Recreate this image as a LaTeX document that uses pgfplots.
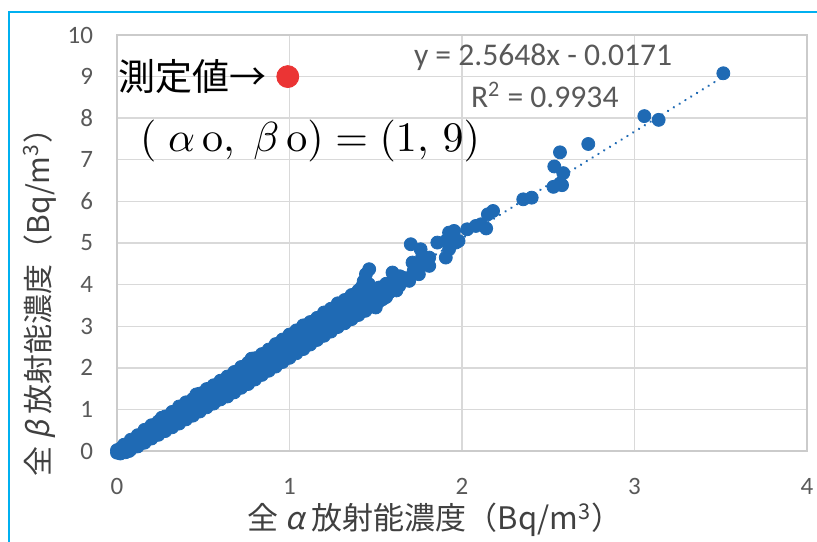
\documentclass[border=0pt]{standalone}
\usepackage[no-math]{fontspec}
\setmainfont{Carlito}
\newfontfamily\jp{Noto Sans CJK JP}
\newfontfamily\jpslant{Noto Sans CJK JP}[FakeSlant=0.2]
\usepackage{pgfplots}
\pgfplotsset{compat=1.18}
\usepackage{pgfplotstable}

\definecolor{ptblue}{RGB}{31,106,180}
\definecolor{ptred}{RGB}{235,52,52}
\definecolor{gridgray}{RGB}{217,217,217}
\definecolor{ticktext}{RGB}{89,89,89}
\definecolor{labeltext}{RGB}{64,64,64}
\definecolor{framecyan}{RGB}{0,176,240}

% gross alpha vs gross beta concentrations (Bq/m^3)
\pgfplotstableread{
x y
0.00 0.02
0.00 -0.04
0.01 0.01
0.02 0.06
0.02 -0.06
0.03 0.03
0.04 0.15
0.04 0.08
0.05 -0.03
0.06 0.12
0.07 0.00
0.08 0.27
0.08 0.17
0.08 0.04
0.10 0.22
0.12 0.38
0.12 0.28
0.12 0.11
0.14 0.30
0.16 0.51
0.16 0.38
0.16 0.20
0.20 0.62
0.20 0.49
0.20 0.30
0.24 0.71
0.24 0.59
0.24 0.39
0.26 0.80
0.28 0.83
0.28 0.69
0.28 0.48
0.32 0.94
0.32 0.80
0.32 0.57
0.36 1.07
0.36 0.91
0.36 0.66
0.40 1.17
0.40 1.01
0.40 0.76
0.44 1.25
0.44 1.10
0.44 0.85
0.46 1.36
0.48 1.38
0.48 1.22
0.48 0.95
0.52 1.49
0.52 1.31
0.52 1.05
0.56 1.58
0.56 1.42
0.56 1.14
0.60 1.69
0.60 1.51
0.60 1.24
0.64 1.79
0.64 1.63
0.64 1.46
0.64 1.31
0.68 1.90
0.68 1.72
0.68 1.56
0.68 1.41
0.72 2.02
0.72 1.84
0.72 1.67
0.72 1.52
0.76 2.12
0.76 1.93
0.76 1.77
0.76 1.61
0.78 2.22
0.80 2.23
0.80 2.04
0.80 1.88
0.80 1.72
0.84 2.33
0.84 2.15
0.84 1.98
0.84 1.83
0.88 2.44
0.88 2.25
0.88 2.07
0.88 1.93
0.92 2.57
0.92 2.35
0.92 2.18
0.92 2.03
0.96 2.68
0.96 2.45
0.96 2.28
0.96 2.14
1.00 2.80
1.00 2.56
1.00 2.40
1.00 2.24
1.04 2.90
1.04 2.66
1.04 2.50
1.04 2.35
1.08 3.02
1.08 2.76
1.08 2.60
1.08 2.45
1.12 3.10
1.12 2.87
1.12 2.70
1.12 2.56
1.16 3.20
1.16 2.97
1.16 2.80
1.16 2.67
1.20 3.33
1.20 3.07
1.20 2.91
1.20 2.77
1.24 3.42
1.24 3.17
1.24 3.02
1.24 2.87
1.28 3.55
1.28 3.28
1.28 3.12
1.28 2.98
1.32 3.63
1.32 3.38
1.32 3.22
1.32 3.07
1.36 3.75
1.36 3.48
1.36 3.31
1.36 3.17
1.40 3.86
1.40 3.58
1.40 3.42
1.40 3.27
1.42 3.95
1.43 4.08
1.443 4.25
1.44 3.68
1.44 3.52
1.44 3.37
1.462 4.37
1.46 4.01
1.48 3.84
1.48 3.70
1.48 3.52
1.50 3.45
1.52 3.93
1.52 3.78
1.52 3.60
1.54 3.65
1.56 4.02
1.56 3.88
1.56 3.70
1.578 3.81
1.597 4.29
1.60 4.12
1.60 3.96
1.62 3.86
1.636 3.97
1.64 4.20
1.655 4.17
1.694 4.09
1.713 4.53
1.703 4.97
1.72 4.33
1.75 4.25
1.76 4.85
1.77 4.69
1.81 4.65
1.78 4.49
1.81 4.45
1.857 5.01
1.906 5.05
1.925 5.25
1.954 5.29
1.964 5.01
1.925 4.85
1.906 4.65
1.98 5.05
2.03 5.33
2.08 5.41
2.11 5.45
2.14 5.35
2.15 5.69
2.18 5.77
2.355 6.05
2.404 6.09
2.53 6.35
2.58 6.39
2.568 6.43
2.587 6.68
2.535 6.84
2.568 7.18
2.732 7.38
3.057 8.05
3.14 7.96
3.515 9.08
}\measured

\begin{document}
\begin{tikzpicture}[x=1pt,y=1pt]
\useasboundingbox (0,0) rectangle (408.5,270.5);
\draw[framecyan, line width=1.2pt] (4.5,-3) -- (4.5,264.5) -- (412,264.5);
\begin{axis}[
  at={(58.5pt,45pt)}, anchor=south west,
  scale only axis, width=345pt, height=208pt,
  xmin=0, xmax=4, ymin=0, ymax=10,
  xtick={0,1,2,3,4}, ytick={0,1,...,10},
  grid=major,
  major grid style={gridgray, line width=0.7pt},
  axis line style={gridgray!85!gray, line width=0.7pt},
  major tick length=0pt,
  tick label style={font=\fontsize{12.5}{14}\selectfont, text=ticktext},
  /pgf/number format/assume math mode=true,
  xticklabel style={anchor=center, yshift=-17.5pt},
  yticklabel style={anchor=east, xshift=-8.5pt},
  clip=false,
]
\addplot[only marks, mark=*, mark size=3.25pt, color=ptblue,
  mark options={fill=ptblue, draw=ptblue}] table {\measured};
\addplot[ptblue, line width=1.3pt, line cap=round,
  dash pattern=on 0.01pt off 3.4pt] coordinates {(0,-0.0171) (3.515,8.9985)};
\addplot[only marks, mark=*, mark size=5.5pt, color=ptred,
  mark options={fill=ptred, draw=ptred}] coordinates {(0.99,9.0)};

\node[anchor=west, inner sep=0pt, font=\jp\fontsize{18.5}{20}\selectfont]
  at (axis cs:0.005,9.0) {測定値→};
\node[inner sep=0pt] at (axis cs:1.119,7.45)
  {\scalebox{2.1}{$(\;\alpha\,\mathrm{o},\;\beta\,\mathrm{o})=(1,\,9)$}};
\node[inner sep=0pt, font=\fontsize{15.8}{18}\selectfont, text=ticktext]
  at (axis cs:2.47,9.47) {y = 2.5648x - 0.0171};
\node[inner sep=0pt, font=\fontsize{15.8}{18}\selectfont, text=ticktext]
  at (axis cs:2.48,8.56) {R\textsuperscript{2} = 0.9934};
\end{axis}
\node[inner sep=0pt, text=labeltext, font=\jp\fontsize{15.5}{18}\selectfont]
  at (217.5,10.5) {全 {\jpslant α} 放射能濃度（Bq/m\textsuperscript{3}）};
\node[inner sep=0pt, rotate=90, text=labeltext, font=\jp\fontsize{15}{18}\selectfont]
  at (20,123) {全 {\jpslant β} 放射能濃度（Bq/m\textsuperscript{3}）};
\end{tikzpicture}
\end{document}
